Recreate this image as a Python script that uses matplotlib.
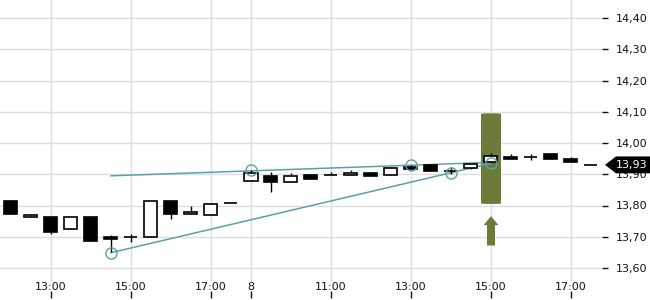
import matplotlib.pyplot as plt
from matplotlib.patches import FancyBboxPatch, Polygon
from matplotlib.ticker import FuncFormatter
from matplotlib.transforms import blended_transform_factory

# OHLC данные свечей (30-минутные)
opens  = [13.814, 13.762, 13.762, 13.724, 13.762, 13.698, 13.698, 13.698, 13.813, 13.772,
          13.770, 13.808, 13.878, 13.894, 13.874, 13.898, 13.897, 13.897, 13.905, 13.897,
          13.924, 13.930, 13.911, 13.919, 13.938, 13.956, 13.956, 13.965, 13.949, 13.930]
highs  = [13.818, 13.774, 13.762, 13.762, 13.762, 13.705, 13.708, 13.813, 13.813, 13.798,
          13.807, 13.808, 13.914, 13.908, 13.905, 13.898, 13.906, 13.914, 13.905, 13.924,
          13.931, 13.930, 13.924, 13.932, 13.969, 13.965, 13.965, 13.965, 13.954, 13.930]
lows   = [13.772, 13.762, 13.708, 13.724, 13.687, 13.651, 13.684, 13.698, 13.756, 13.772,
          13.770, 13.808, 13.878, 13.844, 13.874, 13.886, 13.897, 13.897, 13.895, 13.897,
          13.918, 13.911, 13.901, 13.916, 13.938, 13.948, 13.946, 13.948, 13.940, 13.930]
closes = [13.772, 13.770, 13.716, 13.762, 13.687, 13.694, 13.698, 13.813, 13.772, 13.778,
          13.804, 13.808, 13.903, 13.876, 13.894, 13.886, 13.897, 13.905, 13.895, 13.919,
          13.918, 13.911, 13.911, 13.932, 13.958, 13.948, 13.956, 13.948, 13.940, 13.930]

# Подписи оси X
tick_pos = [2, 6, 10, 12, 16, 20, 24, 28]
tick_lbl = ["13:00", "15:00", "17:00", "8", "11:00", "13:00", "15:00", "17:00"]

# Линии тренда и точки на них
line1_x = [5, 24]
line1_y = [13.649, 13.935]
line2_x = [5, 24]
line2_y = [13.895, 13.938]
pts_x = [5, 12, 20, 22, 24]
pts_y = [13.647, 13.914, 13.930, 13.903, 13.935]

# Подсвеченная свеча
hl_idx = 24
hl_lo, hl_hi = 13.805, 14.095
arrow_lo, arrow_hi = 13.672, 13.766

teal = "#5fa0a8"
green = "#6b7b3a"

fig = plt.figure(figsize=(6.5, 3), dpi=100)
ax = fig.add_axes([0, 18 / 300, 602 / 650, 282 / 300])
ax.set_xlim(-0.55, 29.55)
ax.set_ylim(13.5552, 14.4576)

ax.grid(True, color="#dddddd", lw=1)
ax.set_axisbelow(True)
for s in ax.spines.values():
    s.set_visible(False)

# Подсветка
ax.add_patch(FancyBboxPatch((hl_idx - 0.5, hl_lo), 1.0, hl_hi - hl_lo,
                            boxstyle="round,pad=0,rounding_size=0.35",
                            mutation_aspect=20 / 3125, fc=green, ec="none", zorder=1))
hw, sw, hh = 0.375, 0.2, 0.029
ax.add_patch(Polygon([(hl_idx - sw, arrow_lo), (hl_idx + sw, arrow_lo),
                      (hl_idx + sw, arrow_hi - hh), (hl_idx + hw, arrow_hi - hh),
                      (hl_idx, arrow_hi), (hl_idx - hw, arrow_hi - hh),
                      (hl_idx - sw, arrow_hi - hh)],
                     closed=True, fc=green, ec="none", zorder=1))

# Линии тренда
ax.plot(line1_x, line1_y, color=teal, lw=1.1, zorder=2)
ax.plot(line2_x, line2_y, color=teal, lw=1.1, zorder=2)

# Свечи
for i, (o, h, l, c) in enumerate(zip(opens, highs, lows, closes)):
    ax.vlines(i, l, h, color="black", lw=1, zorder=3)
    up = c >= o
    ax.bar(i, abs(c - o), bottom=min(o, c), width=0.65,
           color="white" if up else "black", edgecolor="black", lw=1.2, zorder=4)

ax.plot(pts_x, pts_y, "o", ms=8, mfc="none", mec=teal, mew=1, zorder=5)

# Ось Y справа
ax.yaxis.tick_right()
ax.set_yticks([13.6, 13.7, 13.8, 13.9, 14.0, 14.1, 14.2, 14.3, 14.4])
ax.yaxis.set_major_formatter(FuncFormatter(lambda v, p: f"{v:.2f}".replace(".", ",")))
ax.tick_params(axis="y", length=4, width=1, pad=6, labelsize=8, colors="#111111")

# Ось X
ax.set_xticks(tick_pos)
ax.set_xticklabels(tick_lbl)
ax.tick_params(axis="x", length=0, pad=0, labelsize=8, colors="#111111")
sec = ax.secondary_xaxis(-16 / 282)
sec.set_xticks(tick_pos)
sec.set_xticklabels([])
sec.tick_params(axis="x", direction="in", length=5, width=1, colors="#111111")
sec.spines["bottom"].set_visible(False)

# Метка последней цены
last = closes[-1]
tr = blended_transform_factory(fig.transFigure, ax.transData)
dh = 0.027
ax.add_patch(Polygon([(605 / 650, last), (616 / 650, last + dh), (1.0, last + dh),
                      (1.0, last - dh), (616 / 650, last - dh)],
                     closed=True, fc="black", ec="none", transform=tr, clip_on=False, zorder=10))
ax.text(616 / 650, last, f"{last:.2f}".replace(".", ","), transform=tr, color="white",
        fontsize=8, va="center", ha="left", zorder=11, clip_on=False)

fig.savefig("out.png", dpi=100)
